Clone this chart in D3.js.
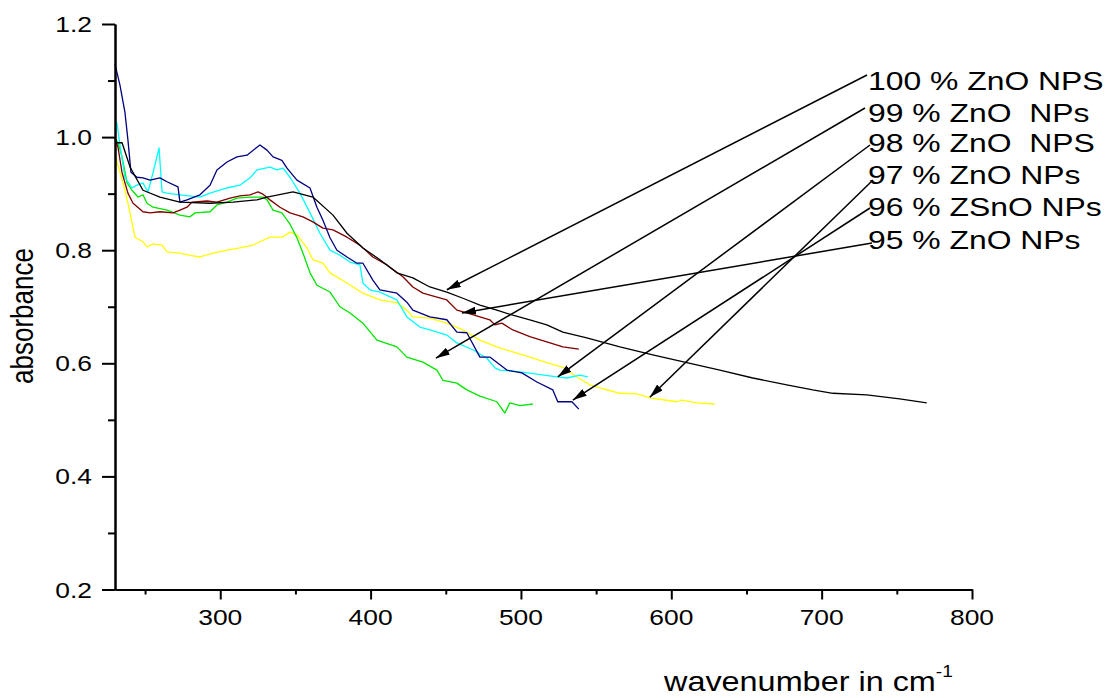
<!DOCTYPE html>
<html>
<head>
<meta charset="utf-8">
<script src="https://cdn.jsdelivr.net/npm/d3@7"></script>
<style>
  body { margin: 0; background: #fff; }
  text { font-family: "Liberation Sans", Arial, sans-serif; fill: #000; white-space: pre; }
</style>
</head>
<body>
<svg id="chart" width="1110" height="698"></svg>
<script>
// Axis ticks
const xTicks = [300, 400, 500, 600, 700, 800];
const xMinorTicks = [250, 350, 450, 550, 650, 750];
const yTicks = [0.2, 0.4, 0.6, 0.8, 1.0, 1.2];
const yMinorTicks = [0.3, 0.5, 0.7, 0.9, 1.1];

// Spectra: [wavenumber, absorbance]
const zno100 = [[230,0.990],[234.7,0.990],[240,0.947],[248.6,0.906],[259.9,0.894],[273.2,0.885],[293.2,0.883],[308.5,0.885],[324.4,0.889],[331.1,0.894],[348.4,0.903],[361.6,0.894],[375,0.862],[384.3,0.830],[394.9,0.804],[406.2,0.783],[417.5,0.760],[428.1,0.751],[439.4,0.735],[450.7,0.726],[461.4,0.715],[472.7,0.703],[484,0.694],[494.6,0.685],[505.9,0.677],[517.2,0.668],[527.9,0.655],[543.8,0.645],[565.8,0.629],[587.7,0.615],[610.3,0.601],[632.3,0.588],[654.2,0.574],[676.8,0.562],[694.1,0.553],[707.4,0.547],[730,0.544],[751.9,0.537],[769.9,0.530]];

const zno99 = [[230,0.998],[232,0.990],[234.7,0.965],[238,0.919],[241.3,0.906],[245.3,0.894],[248.6,0.898],[251.3,0.883],[255.3,0.876],[264.6,0.871],[273.2,0.862],[279.9,0.859],[283.2,0.866],[293.2,0.868],[297.8,0.880],[304.5,0.885],[311.1,0.892],[319.8,0.894],[328.4,0.894],[331.1,0.889],[335.1,0.871],[341,0.866],[346.4,0.846],[351,0.822],[355,0.795],[359.7,0.760],[364.3,0.738],[373,0.726],[379.6,0.700],[386.3,0.689],[394.9,0.671],[404.2,0.641],[417.5,0.629],[424.1,0.611],[434.8,0.602],[444.1,0.588],[448.1,0.570],[457.4,0.565],[464,0.553],[472.7,0.542],[484,0.532],[489.3,0.512],[492.6,0.530],[499.3,0.525],[507.9,0.528]];

const zno98 = [[230,1.027],[231.3,1.025],[233.3,0.986],[236.6,0.929],[241.3,0.910],[244.6,0.915],[248.6,0.919],[251.9,0.903],[255.3,0.937],[259.3,0.981],[261.3,0.903],[264.6,0.901],[273.2,0.898],[286.5,0.894],[293.2,0.901],[304.5,0.910],[313.1,0.915],[319.8,0.928],[324.4,0.942],[333.1,0.947],[337.7,0.942],[341.7,0.945],[346.4,0.929],[353,0.901],[359.7,0.866],[366.3,0.830],[373,0.800],[379.6,0.791],[386.3,0.779],[392.9,0.774],[394.9,0.742],[399.5,0.730],[406.2,0.726],[417.5,0.712],[424.1,0.682],[432.8,0.664],[439.4,0.659],[450.7,0.650],[457.4,0.636],[468,0.624],[477.3,0.609],[482.7,0.592],[486,0.588],[499.3,0.585],[510.6,0.581],[523.9,0.576],[530.5,0.574],[539.2,0.579],[544.5,0.576]];

const zno97 = [[230,0.974],[231.3,0.956],[233.3,0.938],[236.6,0.906],[240,0.866],[243.3,0.823],[248.6,0.815],[251.3,0.806],[255.3,0.811],[261.3,0.809],[264.6,0.797],[273.2,0.795],[279.9,0.791],[286.5,0.788],[295.2,0.795],[304.5,0.800],[313.1,0.804],[321.8,0.809],[326.4,0.815],[333.1,0.823],[341,0.823],[346.4,0.832],[351,0.827],[357.7,0.804],[361.6,0.783],[368.3,0.777],[373,0.760],[384.3,0.742],[394.9,0.724],[406.2,0.712],[417.5,0.707],[424.1,0.694],[428.1,0.682],[439.4,0.680],[450.7,0.671],[461.4,0.659],[472.7,0.641],[484,0.629],[494.6,0.620],[505.9,0.611],[517.2,0.601],[527.9,0.593],[535.9,0.578],[545.8,0.562],[554.5,0.555],[565.8,0.547],[577.1,0.546],[585.7,0.539],[603.7,0.532],[607,0.535],[617,0.530],[628.9,0.528]];

const zno96 = [[230,1.129],[233.3,1.092],[236.6,1.044],[238.6,0.995],[240.6,0.938],[244.6,0.929],[248.6,0.928],[253.3,0.924],[259.9,0.928],[264.6,0.921],[271.9,0.912],[273.2,0.885],[277.9,0.889],[286.5,0.898],[293.2,0.915],[297.8,0.942],[304.5,0.956],[311.1,0.965],[317.8,0.968],[324.4,0.982],[326.4,0.986],[331.1,0.977],[335.1,0.965],[341,0.959],[344.4,0.945],[351,0.924],[359.7,0.910],[364.3,0.876],[368.3,0.853],[373,0.822],[377.6,0.800],[384.3,0.788],[390.9,0.777],[394.9,0.777],[401.5,0.747],[406.2,0.730],[417.5,0.724],[424.1,0.708],[428.1,0.694],[439.4,0.682],[450.7,0.677],[457.4,0.655],[464,0.654],[472.7,0.611],[479.3,0.611],[490.6,0.588],[500.6,0.583],[510.6,0.567],[521.2,0.553],[524.5,0.532],[533.9,0.532],[538.5,0.519]];

const zno95 = [[230,0.998],[232,0.982],[234.7,0.937],[238.6,0.901],[242,0.883],[248.6,0.868],[253.3,0.866],[259.9,0.868],[268.6,0.866],[273.2,0.871],[277.9,0.876],[281.2,0.885],[291.2,0.887],[297.8,0.885],[306.5,0.892],[313.1,0.896],[319.8,0.898],[325.1,0.903],[328.4,0.899],[333.1,0.889],[339.7,0.876],[346.4,0.866],[355,0.859],[361.6,0.850],[368.3,0.839],[375,0.836],[384.3,0.823],[392.9,0.809],[401.5,0.788],[410.9,0.774],[421.5,0.753],[428.1,0.735],[434.8,0.724],[444.1,0.717],[450.7,0.712],[457.4,0.694],[464,0.689],[472.7,0.682],[479.3,0.677],[482.7,0.668],[487.3,0.671],[494.6,0.659],[505.9,0.647],[517.2,0.638],[527.9,0.629],[538.5,0.625]];

// Labels, curve colours and where each label's arrow points (wavenumber, absorbance)
const labels = ["100 % ZnO NPS", "99 % ZnO  NPs", "98 % ZnO  NPS", "97 % ZnO NPs", "96 % ZSnO NPs", "95 % ZnO NPs"];
const spectra = [zno100, zno99, zno98, zno97, zno96, zno95];
const colors = ["#000000", "#00e600", "#00ffff", "#ffff00", "#000080", "#800000"];
const arrowTips = [[450.7,0.730],[443.4,0.609],[524.5,0.576],[585.7,0.540],[534.5,0.535],[460.7,0.689]];

const svg = d3.select("#chart");
const SX = 1.2; // horizontal stretch of the lettering

const x = d3.scaleLinear().domain([230, 800]).range([115, 972]);
const y = d3.scaleLinear().domain([0.2, 1.2]).range([589.5, 24]);

svg.append("rect").attr("width", 1110).attr("height", 698).attr("fill", "#fff");

// Spectra
const line = d3.line().x(d => x(d[0])).y(d => y(d[1]));
const drawOrder = [3, 1, 2, 5, 4, 0];
drawOrder.forEach(i => {
  svg.append("path")
    .datum(spectra[i])
    .attr("d", line)
    .attr("fill", "none")
    .attr("stroke", colors[i])
    .attr("stroke-width", 1.3)
    .attr("stroke-linejoin", "round");
});

// Axes
function styleAxis(g) {
  g.selectAll("path, line").attr("stroke", "#000").attr("stroke-width", 2);
  g.selectAll("text").remove();
}
svg.append("g").attr("transform", "translate(0,589.5)")
  .call(d3.axisBottom(x).tickValues(xMinorTicks).tickSize(5).tickSizeOuter(0)).call(styleAxis);
svg.append("g").attr("transform", "translate(0,589.5)")
  .call(d3.axisBottom(x).tickValues(xTicks).tickSize(10).tickSizeOuter(0)).call(styleAxis);
svg.append("g").attr("transform", "translate(115,0)")
  .call(d3.axisLeft(y).tickValues(yMinorTicks).tickSize(7).tickSizeOuter(0)).call(styleAxis);
svg.append("g").attr("transform", "translate(115,0)")
  .call(d3.axisLeft(y).tickValues(yTicks).tickSize(13).tickSizeOuter(0)).call(styleAxis);

// Tick labels
svg.append("g").selectAll("text").data(xTicks).join("text")
  .attr("transform", d => `translate(${x(d)},625) scale(${SX},1)`)
  .attr("text-anchor", "middle")
  .attr("font-size", 22)
  .text(d => d);
svg.append("g").selectAll("text").data(yTicks).join("text")
  .attr("transform", d => `translate(92,${y(d) + 8}) scale(${SX},1)`)
  .attr("text-anchor", "end")
  .attr("font-size", 22)
  .text(d3.format(".1f"));

// Axis titles
svg.append("text")
  .attr("transform", `translate(33,316) scale(${SX},1) rotate(-90)`)
  .attr("text-anchor", "middle")
  .attr("font-size", 26)
  .text("absorbance");
const xt = svg.append("text")
  .attr("transform", `translate(664,691) scale(${SX},1)`)
  .attr("font-size", 27);
xt.append("tspan").text("wavenumber in cm");
xt.append("tspan").attr("font-size", 16).attr("dy", -14).text("-1");

// Arrowheads
svg.append("defs").append("marker")
  .attr("id", "head")
  .attr("viewBox", "0 0 14 8")
  .attr("refX", 14).attr("refY", 4)
  .attr("markerWidth", 14).attr("markerHeight", 8)
  .attr("markerUnits", "userSpaceOnUse")
  .attr("orient", "auto")
  .append("path").attr("d", "M0,0 L14,4 L0,8 Z").attr("fill", "#000");

// Labels with leader arrows
const labelX = 868;
const labelBaselines = [90, 122, 152, 184, 216, 249];
const tailPoints = [[867,75],[865,108],[870,145],[873,180],[870,208],[872,243]];
labels.forEach((t, i) => {
  svg.append("line")
    .attr("x1", tailPoints[i][0]).attr("y1", tailPoints[i][1])
    .attr("x2", x(arrowTips[i][0])).attr("y2", y(arrowTips[i][1]))
    .attr("stroke", "#000").attr("stroke-width", 1.5)
    .attr("marker-end", "url(#head)");
  svg.append("text")
    .attr("transform", `translate(${labelX},${labelBaselines[i]}) scale(1.25,1)`)
    .attr("font-size", 25.5)
    .text(t);
});
</script>
</body>
</html>
